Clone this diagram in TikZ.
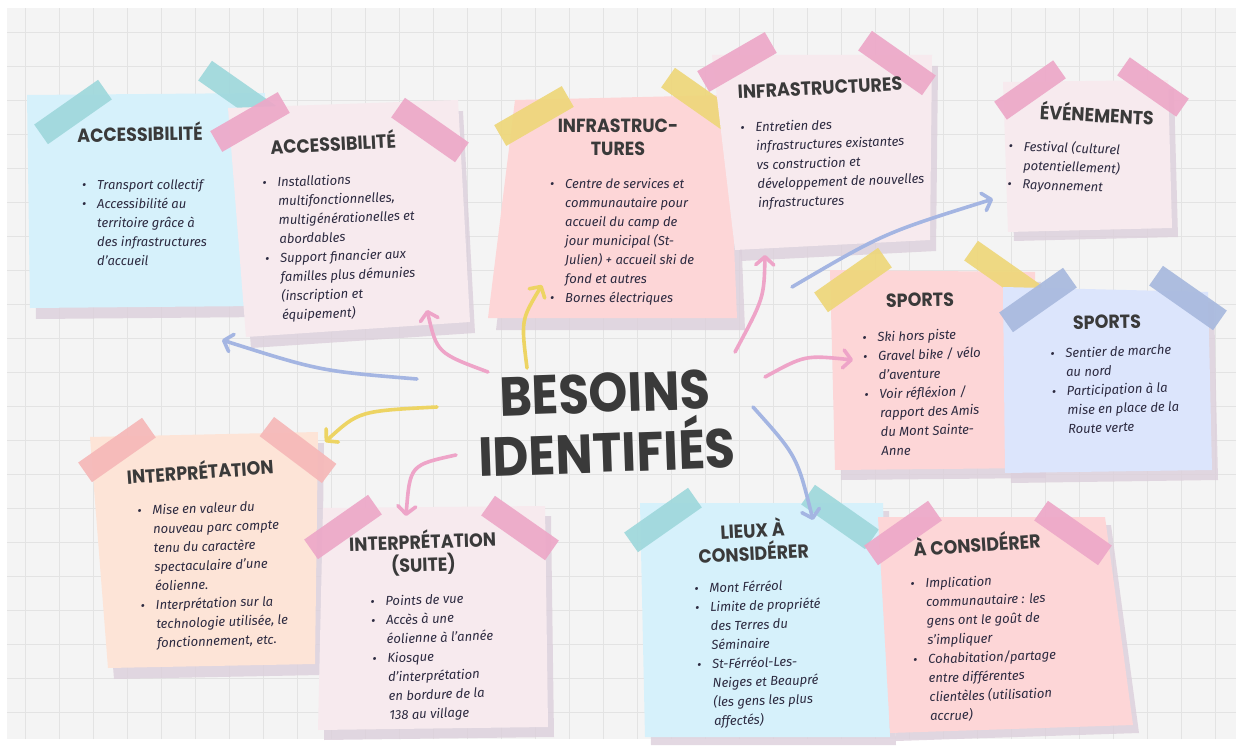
\documentclass[tikz,border=0pt]{standalone}
\usepackage{fontspec}
\setmainfont{Fira Sans}
\newfontfamily\headfont{Poppins}
\usetikzlibrary{arrows.meta}

\definecolor{paper}{HTML}{F4F4F4}
\definecolor{gridline}{HTML}{E3E3E3}
\definecolor{shadow}{HTML}{DCCFDB}
\definecolor{ink}{HTML}{2C2A40}
\definecolor{headink}{HTML}{3A3A3A}
\definecolor{skynote}{HTML}{D6F1FB}
\definecolor{rosenote}{HTML}{F7EAEE}
\definecolor{salmonnote}{HTML}{FDD6D7}
\definecolor{peachnote}{HTML}{FDE4D7}
\definecolor{lilacnote}{HTML}{DCE5FC}
\definecolor{tealtape}{HTML}{9FD8DC}
\definecolor{pinktape}{HTML}{EDA8C8}
\definecolor{goldtape}{HTML}{EED77A}
\definecolor{coraltape}{HTML}{F6B8B8}
\definecolor{slatetape}{HTML}{A8B9DE}
\definecolor{arrblue}{HTML}{A4B5E2}
\definecolor{arrpink}{HTML}{EEA4C8}
\definecolor{arrgold}{HTML}{EDD463}

\newcommand\bul{\strut\makebox[15pt][l]{\textbullet}}
\newcommand\ind{\strut\hspace*{15pt}}

\begin{document}
\begin{tikzpicture}[x=1pt,y=-1pt,
  head/.style={font=\headfont\bfseries\fontsize{19}{23}\selectfont, text=headink, align=center, inner sep=0, xscale=0.92},
  body/.style={font=\fontsize{13}{19}\selectfont\itshape, text=ink, align=left, inner sep=0, anchor=north west},
  shade/.style={fill=shadow, opacity=0.8},
  tape/.style={opacity=0.92},
  link/.style={line width=3.6pt, line cap=round, -{Straight Barb[length=8pt,width=18pt,round]}}]

%背景和网格
\fill[white] (0,0) rectangle (1243,746);
\fill[paper] (7,8) rectangle (1236,739);
\draw[gridline, line width=0.9pt, xshift=25pt, yshift=-32pt, step=34pt] (-18,-24) grid (1211,707);

%ACCESSIBILITÉ (蓝)
\fill[shade, shift={(6,11)}] (27,95) -- (265,93) -- (262,306) -- (30,308) -- cycle;
\fill[skynote] (27,95) -- (265,93) -- (262,306) -- (30,308) -- cycle;
\fill[tealtape, tape, shift={(73,112)}, rotate=35] (-39,-12) rectangle (39,12);
\fill[tealtape, tape, shift={(237,93)}, rotate=-35] (-39,-12) rectangle (39,12);
\node[rotate=1, head] (acc1-head) at (140,132) {ACCESSIBILITÉ};
\node[body] (acc1-body) at (82,176) {\bul Transport collectif\\ \bul Accessibilité au\\ \ind territoire grâce à\\ \ind des infrastructures\\ \ind d'accueil};

%ACCESSIBILITÉ (粉)
\fill[shade, shift={(5,11)}] (228,108) -- (458,100) -- (470,322) -- (246,337) -- cycle;
\fill[rosenote] (228,108) -- (458,100) -- (470,322) -- (246,337) -- cycle;
\fill[pinktape, tape, shift={(250,122)}, rotate=30] (-39,-12) rectangle (39,12);
\fill[pinktape, tape, shift={(430,130)}, rotate=-35] (-39,-12) rectangle (39,12);
\node[rotate=3, head] (acc2-head) at (333,142) {ACCESSIBILITÉ};
\node[body, rotate=2] (acc2-body) at (262,174) {\bul Installations\\ \ind multifonctionnelles,\\ \ind multigénérationelles et\\ \ind abordables\\ \bul Support financier aux\\ \ind familles plus démunies\\ \ind (inscription et\\ \ind équipement)};

%INFRASTRUCTURES (橙红)
\fill[shade, shift={(8,12)}] (515,100) -- (728,95) -- (737,318) -- (488,318) -- cycle;
\fill[salmonnote] (515,100) -- (728,95) -- (737,318) -- (488,318) -- cycle;
\fill[goldtape, tape, shift={(534,116)}, rotate=30] (-39,-12) rectangle (39,12);
\fill[goldtape, tape, shift={(700,100)}, rotate=-35] (-39,-12) rectangle (39,12);
\node[head] (inf1-head) at (618,137) {INFRASTRUC-\\TURES};
\node[body] (inf1-body) at (550,175) {\bul Centre de services et\\ \ind communautaire pour\\ \ind accueil du camp de\\ \ind jour municipal (St-\\ \ind Julien) + accueil ski de\\ \ind fond et autres\\ \bul Bornes électriques};

%INFRASTRUCTURES (浅粉)
\fill[shade, shift={(6,11)}] (712,55) -- (932,55) -- (930,240) -- (735,250) -- cycle;
\fill[rosenote] (712,55) -- (932,55) -- (930,240) -- (735,250) -- cycle;
\fill[pinktape, tape, shift={(737,62)}, rotate=30] (-39,-12) rectangle (39,12);
\fill[pinktape, tape, shift={(897,63)}, rotate=-35] (-39,-12) rectangle (39,12);
\node[rotate=3, head] (inf2-head) at (820,88) {INFRASTRUCTURES};
\node[body, rotate=2] (inf2-body) at (740,119) {\bul Entretien des\\ \ind infrastructures existantes\\ \ind vs construction et\\ \ind développement de nouvelles\\ \ind infrastructures};

%ÉVÉNEMENTS
\fill[shade, shift={(6,9)}] (1003,82) -- (1168,80) -- (1172,228) -- (1008,232) -- cycle;
\fill[rosenote] (1003,82) -- (1168,80) -- (1172,228) -- (1008,232) -- cycle;
\fill[pinktape, tape, shift={(1030,90)}, rotate=35] (-36,-11) rectangle (36,11);
\fill[pinktape, tape, shift={(1153,87)}, rotate=-35] (-36,-11) rectangle (36,11);
\node[rotate=-3, head] (evt-head) at (1097,113) {ÉVÉNEMENTS};
\node[body, rotate=-2] (evt-body) at (1009,137) {\bul Festival (culturel\\ \ind potentiellement)\\ \bul Rayonnement};

%SPORTS (橙红)
\fill[shade, shift={(6,10)}] (830,270) -- (1035,272) -- (1040,468) -- (835,470) -- cycle;
\fill[salmonnote] (830,270) -- (1035,272) -- (1040,468) -- (835,470) -- cycle;
\fill[goldtape, tape, shift={(853,280)}, rotate=35] (-39,-12) rectangle (39,12);
\fill[goldtape, tape, shift={(1003,273)}, rotate=-35] (-39,-12) rectangle (39,12);
\node[rotate=1, head] (spo1-head) at (920,300) {SPORTS};
\node[body, rotate=2] (spo1-body) at (862,329) {\bul Ski hors piste\\ \bul Gravel bike / vélo\\ \ind d'aventure\\ \bul Voir réfléxion /\\ \ind rapport des Amis\\ \ind du Mont Sainte-\\ \ind Anne};

%SPORTS (蓝紫)
\fill[shade, shift={(6,10)}] (1003,287) -- (1208,292) -- (1212,470) -- (1005,473) -- cycle;
\fill[lilacnote] (1003,287) -- (1208,292) -- (1212,470) -- (1005,473) -- cycle;
\fill[slatetape, tape, shift={(1038,300)}, rotate=35] (-39,-12) rectangle (39,12);
\fill[slatetape, tape, shift={(1188,298)}, rotate=-35] (-39,-12) rectangle (39,12);
\node[rotate=1, head] (spo2-head) at (1107,322) {SPORTS};
\node[body, rotate=2] (spo2-body) at (1050,345) {\bul Sentier de marche\\ \ind au nord\\ \bul Participation à la\\ \ind mise en place de la\\ \ind Route verte};

%INTERPRÉTATION
\fill[shade, shift={(6,11)}] (90,437) -- (318,432) -- (315,664) -- (108,668) -- cycle;
\fill[peachnote] (90,437) -- (318,432) -- (315,664) -- (108,668) -- cycle;
\fill[coraltape, tape, shift={(117,450)}, rotate=35] (-39,-12) rectangle (39,12);
\fill[coraltape, tape, shift={(298,450)}, rotate=-37] (-39,-12) rectangle (39,12);
\node[rotate=4, head] (int1-head) at (200,470) {INTERPRÉTATION};
\node[body, rotate=2] (int1-body) at (137,502) {\bul Mise en valeur du\\ \ind nouveau parc compte\\ \ind tenu du caractère\\ \ind spectaculaire d'une\\ \ind éolienne.\\ \bul Interprétation sur la\\ \ind technologie utilisée, le\\ \ind fonctionnement, etc.};

%INTERPRÉTATION (SUITE)
\fill[shade, shift={(6,10)}] (323,508) -- (545,506) -- (548,727) -- (318,730) -- cycle;
\fill[rosenote] (323,508) -- (545,506) -- (548,727) -- (318,730) -- cycle;
\fill[pinktape, tape, shift={(343,527)}, rotate=35] (-39,-12) rectangle (39,12);
\fill[pinktape, tape, shift={(520,528)}, rotate=-35] (-39,-12) rectangle (39,12);
\node[rotate=2, head] (int2-head) at (423,553) {INTERPRÉTATION\\(SUITE)};
\node[body, rotate=2] (int2-body) at (370,593) {\bul Points de vue\\ \bul Accès à une\\ \ind éolienne à l'année\\ \bul Kiosque\\ \ind d'interprétation\\ \ind en bordure de la\\ \ind 138 au village};

%LIEUX À CONSIDÉRER
\fill[shade, shift={(6,8)}] (640,503) -- (883,503) -- (890,737) -- (645,737) -- cycle;
\fill[skynote] (640,503) -- (883,503) -- (890,737) -- (645,737) -- cycle;
\fill[tealtape, tape, shift={(663,520)}, rotate=35] (-39,-12) rectangle (39,12);
\fill[tealtape, tape, shift={(840,517)}, rotate=-35] (-39,-12) rectangle (39,12);
\node[rotate=3, head] (lieux-head) at (753,540) {LIEUX À\\CONSIDÉRER};
\node[body, rotate=2] (lieux-body) at (694,580) {\bul Mont Férréol\\ \bul Limite de propriété\\ \ind des Terres du\\ \ind Séminaire\\ \bul St-Férréol-Les-\\ \ind Neiges et Beaupré\\ \ind (les gens les plus\\ \ind affectés)};

%À CONSIDÉRER
\fill[shade, shift={(6,8)}] (878,517) -- (1105,517) -- (1133,725) -- (890,733) -- cycle;
\fill[salmonnote] (878,517) -- (1105,517) -- (1133,725) -- (890,733) -- cycle;
\fill[pinktape, tape, shift={(903,533)}, rotate=35] (-39,-12) rectangle (39,12);
\fill[pinktape, tape, shift={(1073,533)}, rotate=-35] (-39,-12) rectangle (39,12);
\node[rotate=4, head] (acons-head) at (977,543) {À CONSIDÉRER};
\node[body, rotate=2] (acons-body) at (910,575) {\bul Implication\\ \ind communautaire : les\\ \ind gens ont le goût de\\ \ind s'impliquer\\ \bul Cohabitation/partage\\ \ind entre différentes\\ \ind clientèles (utilisation\\ \ind accrue)};

%中心标题
\node[rotate=2, font=\headfont\bfseries\fontsize{55}{60}\selectfont, text=headink, align=center, inner sep=0, xscale=0.9] (core) at (606,423) {BESOINS\\IDENTIFIÉS};

%箭头的起点和终点
\coordinate (c-acc1) at (417,379); \coordinate (t-acc1) at (222,340);
\coordinate (c-acc2) at (488,372); \coordinate (t-acc2) at (427,310);
\coordinate (c-inf1) at (527,368); \coordinate (t-inf1) at (542,285);
\coordinate (c-inf2) at (735,352); \coordinate (t-inf2) at (765,255);
\coordinate (c-evt) at (792,287); \coordinate (t-evt) at (993,199);
\coordinate (c-spo) at (765,377); \coordinate (t-spo) at (853,360);
\coordinate (c-int1) at (437,407); \coordinate (t-int1) at (325,442);
\coordinate (c-int2) at (456,455); \coordinate (t-int2) at (406,516);
\coordinate (c-lieux) at (753,407); \coordinate (t-lieux) at (813,520);

%画出箭头
\draw[link, arrblue] (c-acc1) .. controls (320,371) .. (t-acc1);
\draw[link, arrpink] (c-acc2) .. controls (437,353) .. (t-acc2);
\draw[link, arrgold] (c-inf1) .. controls (521,320) .. (t-inf1);
\draw[link, arrpink] (c-inf2) .. controls (764,298) .. (t-inf2);
\draw[link, arrblue] (c-evt) .. controls (884,233) .. (t-evt);
\draw[link, arrpink] (c-spo) .. controls (805,355) .. (t-spo);
\draw[link, arrgold] (c-int1) .. controls (359,411) .. (t-int1);
\draw[link, arrpink] (c-int2) .. controls (410,465) .. (t-int2);
\draw[link, arrblue] (c-lieux) .. controls (797,456) .. (t-lieux);
\end{tikzpicture}
\end{document}
